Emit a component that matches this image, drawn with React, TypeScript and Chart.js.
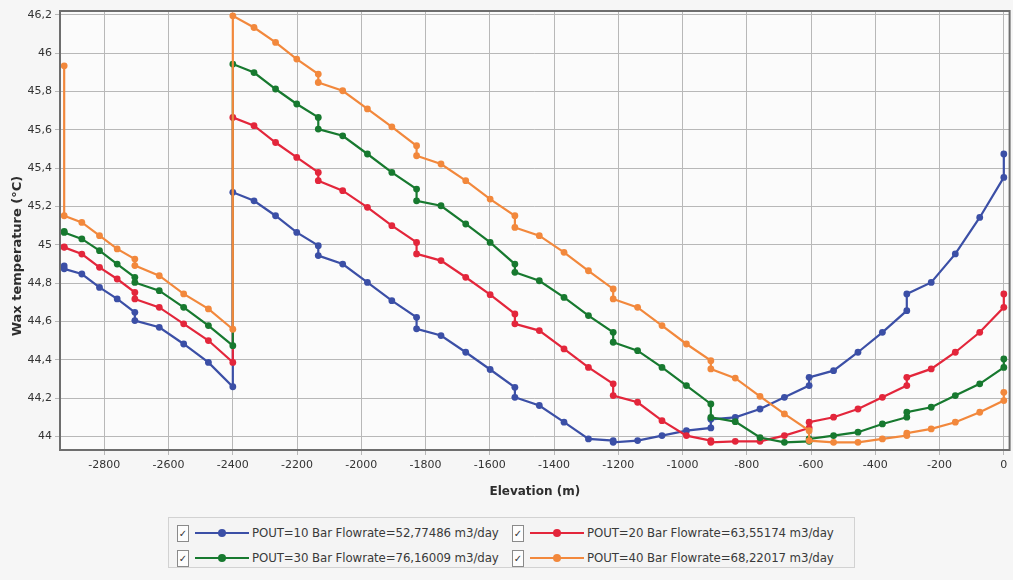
import React, { useEffect, useRef } from "react";
import { Chart, registerables } from "chart.js";

Chart.register(...registerables);

// Elevation (m) of every node along the profile (duplicates = segment boundaries)
const elevations = [
  -2925, -2925, -2870, -2815, -2760, -2705, -2705, -2629, -2553, -2476, -2400,
  -2400, -2334, -2267, -2201, -2134, -2134, -2058, -1981, -1905, -1828, -1828,
  -1752, -1675, -1599, -1522, -1522, -1446, -1369, -1293, -1216, -1216, -1140,
  -1064, -988, -912, -912, -836, -759, -683, -606, -606, -530, -454, -378, -302,
  -302, -226, -151, -75, 0, 0,
];

const pout10Values = [
  44.89, 44.875, 44.848, 44.778, 44.718, 44.648, 44.605, 44.57, 44.483, 44.387, 44.26,
  45.274, 45.23, 45.152, 45.065, 44.996, 44.944, 44.9, 44.804, 44.709, 44.622, 44.562,
  44.527, 44.44, 44.35, 44.257, 44.205, 44.162, 44.075, 43.988, 43.979, 43.97, 43.979,
  44.005, 44.031, 44.045, 44.09, 44.1, 44.144, 44.205, 44.266, 44.309, 44.344, 44.44,
  44.544, 44.657, 44.744, 44.804, 44.953, 45.143, 45.352, 45.474,
];

const pout20Values = [
  44.99, 44.987, 44.952, 44.883, 44.822, 44.752, 44.718, 44.674, 44.588, 44.501, 44.387,
  45.665, 45.622, 45.534, 45.456, 45.378, 45.335, 45.283, 45.196, 45.1, 45.013, 44.953,
  44.918, 44.831, 44.74, 44.64, 44.588, 44.553, 44.457, 44.361, 44.275, 44.214, 44.179,
  44.083, 44.005, 43.979, 43.97, 43.975, 43.975, 44.005, 44.045, 44.075, 44.101, 44.144,
  44.205, 44.266, 44.309, 44.353, 44.44, 44.544, 44.674, 44.744,
];

const pout30Values = [
  45.07, 45.065, 45.031, 44.97, 44.9, 44.831, 44.804, 44.761, 44.674, 44.579, 44.474,
  45.943, 45.899, 45.813, 45.735, 45.665, 45.604, 45.569, 45.474, 45.378, 45.291, 45.23,
  45.204, 45.109, 45.013, 44.9, 44.857, 44.813, 44.726, 44.631, 44.544, 44.492, 44.448,
  44.361, 44.266, 44.17, 44.1, 44.078, 43.995, 43.97, 43.975, 43.988, 44.005, 44.023,
  44.066, 44.101, 44.127, 44.153, 44.214, 44.275, 44.361, 44.405,
];

const pout40Values = [
  45.934, 45.152, 45.117, 45.048, 44.979, 44.926, 44.892, 44.839, 44.744, 44.666, 44.56,
  46.195, 46.134, 46.056, 45.969, 45.891, 45.847, 45.804, 45.709, 45.616, 45.517, 45.465,
  45.422, 45.335, 45.239, 45.152, 45.091, 45.048, 44.961, 44.865, 44.77, 44.718, 44.674,
  44.579, 44.483, 44.396, 44.353, 44.305, 44.21, 44.118, 44.031, 43.979, 43.97, 43.97,
  43.988, 44.005, 44.018, 44.04, 44.075, 44.127, 44.188, 44.231,
];

const seriesLabels = [
  "POUT=10 Bar Flowrate=52,77486 m3/day",
  "POUT=20 Bar Flowrate=63,55174 m3/day",
  "POUT=30 Bar Flowrate=76,16009 m3/day",
  "POUT=40 Bar Flowrate=68,22017 m3/day",
];

const xTicks = [-2800, -2600, -2400, -2200, -2000, -1800, -1600, -1400, -1200, -1000, -800, -600, -400, -200, 0];
const yTicks = [44, 44.2, 44.4, 44.6, 44.8, 45, 45.2, 45.4, 45.6, 45.8, 46, 46.2];

const xTitle = "Elevation (m)";
const yTitle = "Wax temperature (°C)";

const COLORS = ["#3b4fa6", "#e3263b", "#17792f", "#f2883c"];
const ORDER = [3, 2, 1, 0];
const VALUES = [pout10Values, pout20Values, pout30Values, pout40Values];

const bgPlugin = {
  id: "bg",
  beforeDraw(chart: any) {
    const { ctx, chartArea: a } = chart;
    ctx.save();
    ctx.fillStyle = "#f6f6f6";
    ctx.fillRect(0, 0, chart.width, chart.height);
    ctx.fillStyle = "#fbfbfb";
    ctx.fillRect(a.left, a.top, a.right - a.left, a.bottom - a.top);
    ctx.restore();
  },
  afterDraw(chart: any) {
    const { ctx, chartArea: a } = chart;
    ctx.save();
    ctx.strokeStyle = "#6e6e6e";
    ctx.lineWidth = 2;
    ctx.strokeRect(a.left, a.top, a.right - a.left, a.bottom - a.top);
    ctx.fillStyle = "#2e2e2e";
    ctx.font = "bold 12px 'DejaVu Sans'";
    ctx.textAlign = "center";
    ctx.textBaseline = "middle";
    ctx.fillText(xTitle, (a.left + a.right) / 2, 492);
    ctx.translate(18, 256);
    ctx.rotate(-Math.PI / 2);
    ctx.font = "bold 13px 'DejaVu Sans'";
    ctx.fillText(yTitle, 0, 0);
    ctx.restore();
  },
};

function LegendItem({ color, label, left, top }: any) {
  return (
    <div style={{ position: "absolute", left, top, height: 18, display: "flex", alignItems: "center" }}>
      <div
        style={{
          width: 10,
          height: 15,
          border: "1px solid #8a8a8a",
          background: "#fdfdfd",
          fontSize: 10,
          lineHeight: "15px",
          textAlign: "center",
          color: "#333",
          fontFamily: "'DejaVu Sans'",
        }}
      >
        ✓
      </div>
      <div style={{ position: "relative", width: 54, height: 18, marginLeft: 6 }}>
        <div style={{ position: "absolute", left: 0, right: 0, top: 8, height: 2, background: color }} />
        <div
          style={{
            position: "absolute",
            left: 23,
            top: 5,
            width: 8,
            height: 8,
            borderRadius: 4,
            background: color,
          }}
        />
      </div>
      <div
        style={{
          marginLeft: 3,
          fontFamily: "'DejaVu Sans'",
          fontSize: 11.8,
          letterSpacing: "-0.1px",
          color: "#3a3a3a",
          whiteSpace: "nowrap",
        }}
      >
        {label}
      </div>
    </div>
  );
}

export default function App() {
  const ref = useRef<HTMLCanvasElement | null>(null);

  useEffect(() => {
    document.body.style.margin = "0";
    const canvas = ref.current;
    if (!canvas) return;
    const chart = new Chart(canvas, {
      type: "line",
      data: {
        datasets: VALUES.map((vals, k) => ({
          label: seriesLabels[k],
          data: elevations.map((x, i) => ({ x, y: vals[i] })),
          borderColor: COLORS[k],
          backgroundColor: COLORS[k],
          borderWidth: 2.2,
          pointRadius: 3.4,
          pointHoverRadius: 3.4,
          pointBorderWidth: 0,
          pointStyle: "circle",
          tension: 0,
          fill: false,
          order: ORDER[k],
        })),
      },
      options: {
        animation: false,
        responsive: false,
        maintainAspectRatio: false,
        layout: { padding: { top: 11, right: 3, left: 0, bottom: 75 } },
        plugins: { legend: { display: false }, tooltip: { enabled: false } },
        scales: {
          x: {
            type: "linear",
            min: -2938,
            max: 18,
            afterBuildTicks: (s: any) => {
              s.ticks = xTicks.map((v) => ({ value: v }));
            },
            afterFit: (s: any) => {
              s.height = 55;
            },
            ticks: {
              autoSkip: false,
              maxRotation: 0,
              padding: 4,
              color: "#333",
              font: { family: "'DejaVu Sans'", size: 11 },
              callback: (v: any) => String(v),
            },
            grid: { color: "#b8b8b8", lineWidth: 1, tickLength: 5, drawTicks: true },
            border: { display: false },
          },
          y: {
            type: "linear",
            min: 43.93,
            max: 46.22,
            afterBuildTicks: (s: any) => {
              s.ticks = yTicks.map((v) => ({ value: v }));
            },
            afterFit: (s: any) => {
              s.width = 60;
            },
            ticks: {
              autoSkip: false,
              padding: 3,
              color: "#333",
              font: { family: "'DejaVu Sans'", size: 11 },
              callback: (v: any) => String(v).replace(".", ","),
            },
            grid: { color: "#b8b8b8", lineWidth: 1, tickLength: 5, drawTicks: true },
            border: { display: false },
          },
        },
      },
      plugins: [bgPlugin],
    });
    return () => chart.destroy();
  }, []);

  return (
    <div style={{ position: "absolute", left: 0, top: 0, width: 1013, height: 580, background: "#f6f6f6" }}>
      <canvas ref={ref} width={1013} height={580} style={{ width: 1013, height: 580, display: "block" }} />
      <div
        style={{
          position: "absolute",
          left: 168,
          top: 517,
          width: 687,
          height: 51,
          border: "1px solid #d2d2d2",
          background: "#f4f4f4",
          boxSizing: "border-box",
        }}
      />
      <LegendItem color={COLORS[0]} label={seriesLabels[0]} left={177} top={524} />
      <LegendItem color={COLORS[1]} label={seriesLabels[1]} left={512} top={524} />
      <LegendItem color={COLORS[2]} label={seriesLabels[2]} left={177} top={549} />
      <LegendItem color={COLORS[3]} label={seriesLabels[3]} left={512} top={549} />
    </div>
  );
}
